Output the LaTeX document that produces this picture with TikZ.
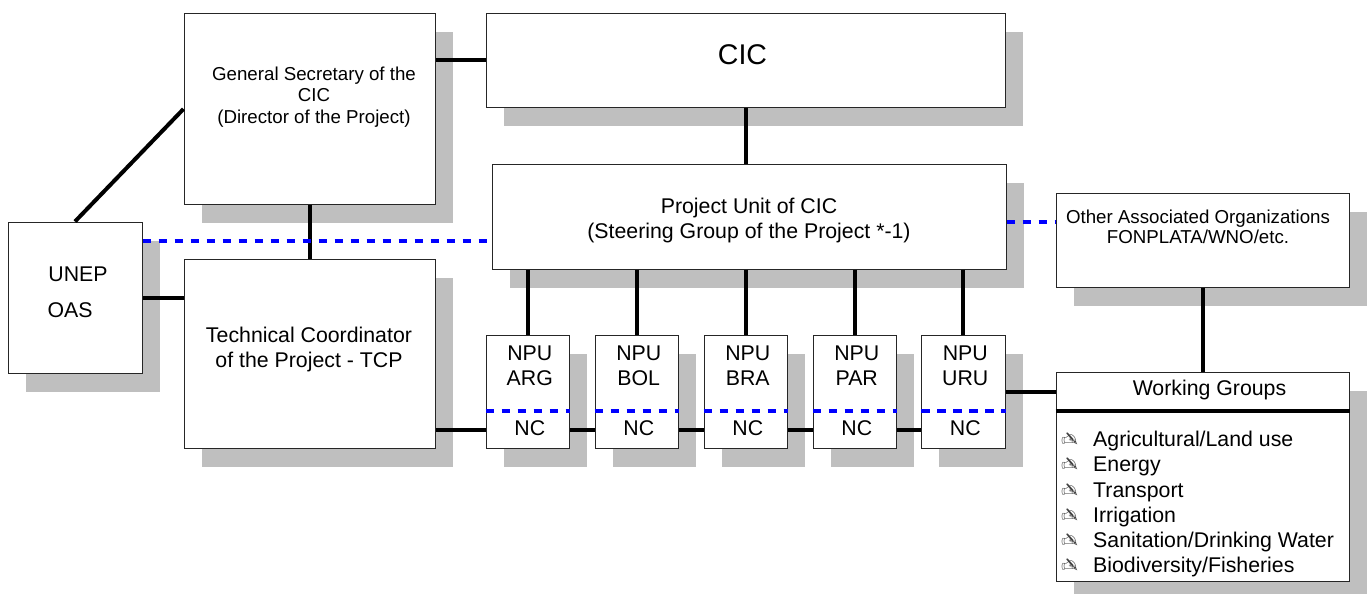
\documentclass[tikz,border=0pt]{standalone}
\usepackage{fontspec}
\setmainfont{Liberation Sans}
\newfontfamily\handfont{DejaVu Sans}
\usetikzlibrary{positioning,shadows}
\newcommand{\wgitem}[1]{\makebox[32pt][l]{\textcolor{black!75}{\handfont\fontsize{20}{20}\selectfont\reflectbox{✍}}}#1}
\tikzset{
  orgbox/.style={rectangle,draw=black!85,line width=1pt,fill=white,anchor=north west,inner sep=0pt,align=center,
    drop shadow={shadow xshift=17.5pt,shadow yshift=-18.5pt,fill=black!25,opacity=1}},
  npubox/.style={orgbox,minimum width=83.5pt,minimum height=113pt},
  npulabel/.style={inner sep=0pt,align=center,font=\fontsize{21.3}{25}\selectfont},
  boxlabel/.style={inner sep=0pt,align=center,font=\fontsize{21.3}{25}\selectfont},
  smalllabel/.style={inner sep=0pt,align=center,font=\fontsize{18.7}{21.5}\selectfont},
  link/.style={line width=4pt,black},
  bluelink/.style={line width=4pt,blue,dash pattern=on 8.5pt off 7.5pt}
}
\begin{document}
\begin{tikzpicture}[x=1pt,y=-1pt]
    \useasboundingbox (0,0) rectangle (1369,594);
    % upper boxes
    \node[orgbox,minimum width=251pt,minimum height=190pt] (gs) at (183.5,13.5) {};
    \node[smalllabel] (gstext) at (314,97) {General Secretary of the\\CIC\\(Director of the Project)};
    \node[orgbox,minimum width=519pt,minimum height=93pt] (cic) at (485.5,13.5) {};
    \node[inner sep=0pt,font=\fontsize{28.5}{34}\selectfont] (cictext) at (742.5,55) {CIC};
    \node[orgbox,minimum width=514pt,minimum height=105pt] (pu) at (491.5,163.5) {};
    \node[boxlabel] (putext) at (749,220) {Project Unit of CIC\\(Steering Group of the Project *-1)};
    \node[orgbox,minimum width=293pt,minimum height=94pt] (other) at (1055.5,192.5) {};
    \node[smalllabel,font=\fontsize{18.7}{20}\selectfont] (othertext) at (1198,227) {Other Associated Organizations\\FONPLATA/WNO/etc.};
    % left boxes
    \node[orgbox,minimum width=134pt,minimum height=151pt] (unep) at (7.5,221.5) {};
    \node[boxlabel] (uneptext) at (78,274) {UNEP};
    \node[boxlabel] (oastext) at (70,310) {OAS};
    \node[orgbox,minimum width=251pt,minimum height=189pt] (tcp) at (183.5,258.5) {};
    \node[boxlabel] (tcptext) at (309,349.5) {Technical Coordinator\\of the Project - TCP};
    % national units
    \node[npubox] (arg) at (485.5,334.5) {};
    \node[npubox] (bol) at (594.5,334.5) {};
    \node[npubox] (bra) at (703.5,334.5) {};
    \node[npubox] (par) at (812.5,334.5) {};
    \node[npubox] (uru) at (921,334.5) {};
    \node[npulabel] (argtext) at ([xshift=2pt,yshift=1pt]arg.center) {NPU\\ARG\\[25pt]NC};
    \node[npulabel] (boltext) at ([xshift=2pt,yshift=1pt]bol.center) {NPU\\BOL\\[25pt]NC};
    \node[npulabel] (bratext) at ([xshift=2pt,yshift=1pt]bra.center) {NPU\\BRA\\[25pt]NC};
    \node[npulabel] (partext) at ([xshift=2pt,yshift=1pt]par.center) {NPU\\PAR\\[25pt]NC};
    \node[npulabel] (urutext) at ([xshift=2pt,yshift=1pt]uru.center) {NPU\\URU\\[25pt]NC};
    % working groups
    \node[orgbox,minimum width=293pt,minimum height=209pt] (wg) at (1055.5,371.5) {};
    \node[boxlabel] (wgtitle) at (1209.5,390) {Working Groups};
    \node[anchor=north west,inner sep=0pt,align=left,font=\fontsize{21.3}{25.2}\selectfont] (wglist) at (1061,431) {\wgitem{Agricultural/Land use}\\\wgitem{Energy}\\\wgitem{Transport}\\\wgitem{Irrigation}\\\wgitem{Sanitation/Drinking Water}\\\wgitem{Biodiversity/Fisheries}};
    % levels of the lines that run off centre
    \coordinate (blueleft) at (0,241);
    \coordinate (blueright) at (0,222);
    \coordinate (ncline) at (0,430);
    \coordinate (bluenc) at (0,411);
    \coordinate (wgline) at (0,411);
    % solid links
    \draw[link] (gs.east |- cic.west) -- (cic.west);
    \draw[link] (cic.south) -- (cic.south |- pu.north);
    \draw[link] (gs.south) -- (tcp.north);
    \draw[link] (unep.north) -- (gs.west);
    \draw[link] (unep.east) -- (unep.east -| tcp.west);
    \draw[link] (pu.south -| arg.north) -- (arg.north);
    \draw[link] (pu.south -| bol.north) -- (bol.north);
    \draw[link] (pu.south -| bra.north) -- (bra.north);
    \draw[link] (pu.south -| par.north) -- (par.north);
    \draw[link] (pu.south -| uru.north) -- (uru.north);
    \draw[link] (tcp.east |- ncline) -- (arg.west |- ncline);
    \draw[link] (arg.east |- ncline) -- (bol.west |- ncline);
    \draw[link] (bol.east |- ncline) -- (bra.west |- ncline);
    \draw[link] (bra.east |- ncline) -- (par.west |- ncline);
    \draw[link] (par.east |- ncline) -- (uru.west |- ncline);
    \draw[link] (uru.east) -- (uru.east -| wg.west);
    \draw[link] (other.south) -- (wg.north);
    \draw[link] (wg.west |- wgline) -- (wg.east |- wgline);
    % dashed links
    \draw[bluelink] (unep.east |- blueleft) -- (pu.west |- blueleft);
    \draw[bluelink] (pu.east |- blueright) -- (other.west |- blueright);
    \draw[bluelink] (arg.west |- bluenc) -- (arg.east |- bluenc);
    \draw[bluelink] (bol.west |- bluenc) -- (bol.east |- bluenc);
    \draw[bluelink] (bra.west |- bluenc) -- (bra.east |- bluenc);
    \draw[bluelink] (par.west |- bluenc) -- (par.east |- bluenc);
    \draw[bluelink] (uru.west |- bluenc) -- (uru.east |- bluenc);
\end{tikzpicture}
\end{document}
